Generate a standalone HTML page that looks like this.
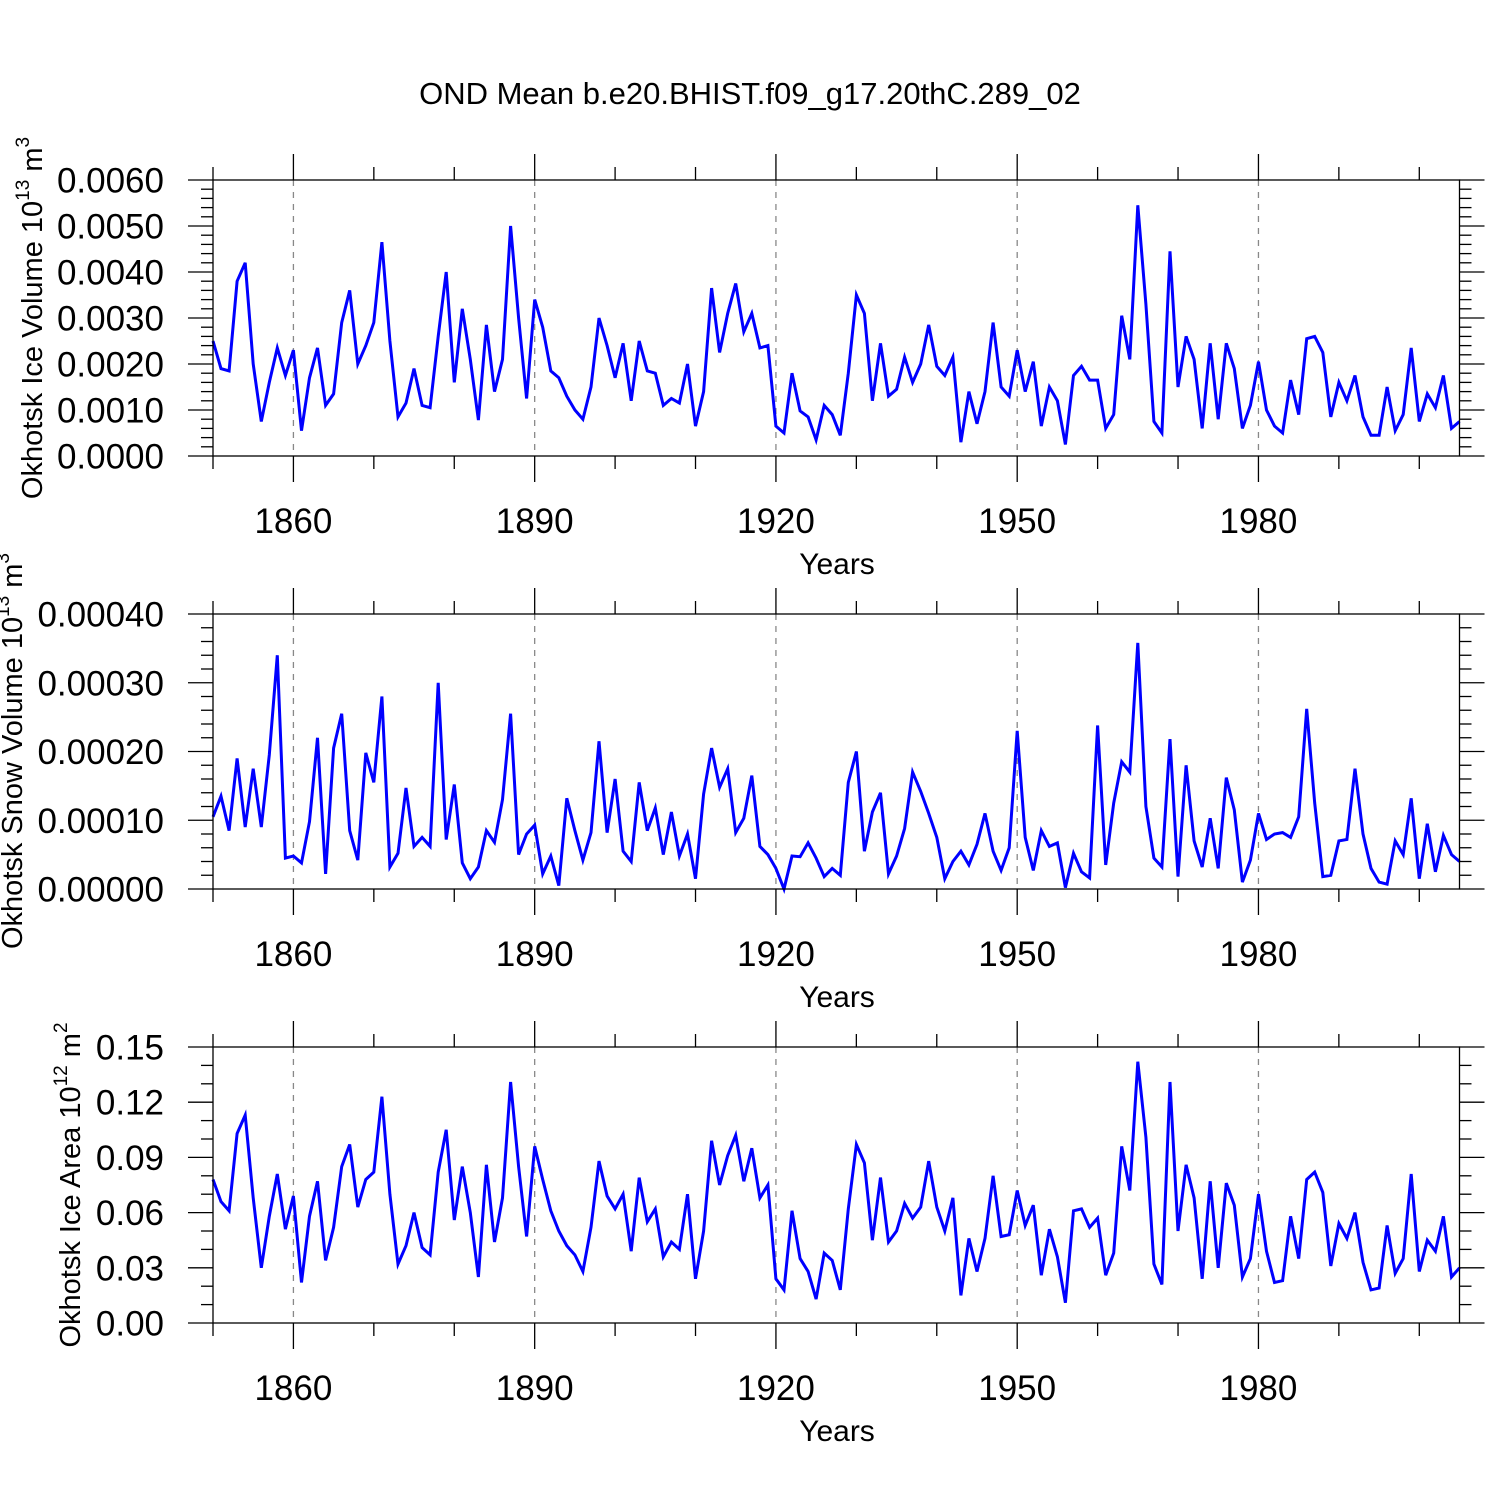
<!DOCTYPE html>
<html><head><meta charset="utf-8"><style>
html,body{margin:0;padding:0;background:#fff}
svg{display:block}
text{font-family:"Liberation Sans",sans-serif;fill:#000}
</style></head><body>
<svg id="chart" width="1500" height="1500" viewBox="0 0 1500 1500" xmlns="http://www.w3.org/2000/svg">
<rect width="1500" height="1500" fill="#fff"/>
<text x="750" y="104" font-size="31" text-anchor="middle">OND Mean b.e20.BHIST.f09_g17.20thC.289_02</text>
</svg>
<script>
const years=[];for(let y=1850;y<=2005;y++)years.push(y);
const xTickYears=[1860,1890,1920,1950,1980];
const iceVolume=[2.5,1.9,1.85,3.8,4.2,2.0,0.75,1.6,2.35,1.75,2.3,0.55,1.7,2.35,1.1,1.35,2.9,3.6,2.0,2.4,2.9,4.65,2.5,0.85,1.15,1.9,1.1,1.05,2.6,4.0,1.6,3.2,2.1,0.78,2.85,1.4,2.1,5.0,3.0,1.25,3.4,2.8,1.85,1.7,1.3,1.0,0.8,1.5,3.0,2.4,1.7,2.45,1.2,2.5,1.85,1.8,1.1,1.25,1.15,2.0,0.65,1.4,3.65,2.25,3.1,3.75,2.7,3.1,2.35,2.4,0.65,0.5,1.8,0.98,0.85,0.35,1.1,0.9,0.45,1.8,3.5,3.1,1.2,2.45,1.3,1.45,2.15,1.6,2.0,2.85,1.95,1.75,2.15,0.3,1.4,0.7,1.4,2.9,1.5,1.3,2.3,1.4,2.05,0.65,1.5,1.2,0.25,1.75,1.95,1.65,1.65,0.6,0.9,3.05,2.1,5.45,3.3,0.75,0.5,4.45,1.5,2.6,2.1,0.6,2.45,0.8,2.45,1.9,0.6,1.1,2.05,1.0,0.65,0.5,1.65,0.9,2.55,2.6,2.25,0.85,1.6,1.2,1.75,0.85,0.45,0.45,1.5,0.55,0.9,2.35,0.75,1.35,1.05,1.75,0.6,0.75].map(v=>v*0.001);
const snowVolume=[1.05,1.35,0.85,1.9,0.9,1.75,0.9,1.95,3.4,0.45,0.48,0.38,0.98,2.2,0.22,2.05,2.55,0.85,0.42,1.98,1.55,2.8,0.32,0.52,1.47,0.62,0.75,0.62,3.0,0.72,1.52,0.38,0.15,0.32,0.85,0.68,1.3,2.55,0.5,0.8,0.93,0.22,0.48,0.05,1.32,0.85,0.42,0.82,2.15,0.82,1.6,0.55,0.4,1.55,0.85,1.18,0.5,1.12,0.48,0.8,0.15,1.38,2.05,1.48,1.75,0.82,1.03,1.65,0.62,0.5,0.3,0.0,0.48,0.47,0.67,0.45,0.18,0.3,0.2,1.55,2.0,0.55,1.12,1.4,0.22,0.48,0.88,1.7,1.42,1.1,0.75,0.15,0.4,0.55,0.35,0.65,1.1,0.55,0.27,0.6,2.3,0.75,0.27,0.85,0.62,0.67,0.02,0.52,0.25,0.16,2.38,0.35,1.25,1.85,1.7,3.58,1.2,0.45,0.32,2.18,0.18,1.8,0.7,0.32,1.03,0.3,1.62,1.15,0.1,0.42,1.1,0.72,0.8,0.82,0.75,1.05,2.62,1.25,0.18,0.2,0.7,0.72,1.75,0.8,0.3,0.1,0.07,0.7,0.5,1.32,0.15,0.95,0.25,0.78,0.5,0.4].map(v=>v*0.0001);
const iceArea=[7.8,6.6,6.1,10.3,11.3,6.8,3.0,5.8,8.1,5.1,6.9,2.2,5.8,7.7,3.4,5.2,8.5,9.7,6.3,7.8,8.2,12.3,7.0,3.2,4.2,6.0,4.1,3.7,8.2,10.5,5.6,8.5,6.0,2.5,8.6,4.4,6.8,13.1,8.5,4.7,9.6,7.8,6.1,5.0,4.2,3.7,2.8,5.2,8.8,6.9,6.2,7.0,3.9,7.9,5.5,6.2,3.6,4.4,4.0,7.0,2.4,5.0,9.9,7.5,9.1,10.2,7.7,9.5,6.8,7.5,2.4,1.8,6.1,3.5,2.8,1.3,3.8,3.4,1.8,6.2,9.7,8.7,4.5,7.9,4.4,5.0,6.5,5.7,6.3,8.8,6.3,5.0,6.8,1.5,4.6,2.8,4.6,8.0,4.7,4.8,7.2,5.3,6.4,2.6,5.1,3.6,1.1,6.1,6.2,5.2,5.7,2.6,3.8,9.6,7.2,14.2,10.1,3.2,2.1,13.1,5.0,8.6,6.8,2.4,7.7,3.0,7.6,6.4,2.5,3.5,7.0,3.9,2.2,2.3,5.8,3.5,7.8,8.2,7.1,3.1,5.4,4.6,6.0,3.3,1.8,1.9,5.3,2.7,3.5,8.1,2.8,4.5,3.9,5.8,2.5,3.0].map(v=>v*0.01);
const yTicks1=["0.0000","0.0010","0.0020","0.0030","0.0040","0.0050","0.0060"];
const yTicks2=["0.00000","0.00010","0.00020","0.00030","0.00040"];
const yTicks3=["0.00","0.03","0.06","0.09","0.12","0.15"];

const NS="http://www.w3.org/2000/svg";
const svg=document.getElementById('chart');
const X0=213,X1=1459.5,YR0=1850,YR1=2005;
function xScale(yr){return X0+(yr-YR0)/(YR1-YR0)*(X1-X0);}
function mk(tag,attrs,parent){const e=document.createElementNS(NS,tag);for(const k in attrs)e.setAttribute(k,attrs[k]);(parent||svg).appendChild(e);return e;}

function panel(p){
  const g=mk('g',{});
  
  
  const yMax=p.max,top=p.top,bot=p.bot;
  const yScale=v=>bot-(v/yMax)*(bot-top);
  xTickYears.forEach(yr=>{const l=mk('line',{x1:xScale(yr),x2:xScale(yr),y1:top,y2:bot,stroke:'#888','stroke-width':1.3,'stroke-dasharray':'6,6'},g);
    });
  const pts=years.map((yr,i)=>xScale(yr).toFixed(1)+','+yScale(p.data[i]).toFixed(1)).join(' ');
  const pl=mk('polyline',{points:pts,fill:'none',stroke:'#0000ff','stroke-width':3,'stroke-linejoin':'miter'},g);
  
  
  const fr=mk('rect',{x:X0,y:top,width:X1-X0,height:bot-top,fill:'none',stroke:'#000','stroke-width':1.3},g);
  
  for(let yr=1850;yr<=2000;yr+=10){
    const major=xTickYears.includes(yr);const len=major?26:13;const x=xScale(yr);
    mk('line',{x1:x,x2:x,y1:top,y2:top-len,stroke:'#000','stroke-width':1.3},g);
    mk('line',{x1:x,x2:x,y1:bot,y2:bot+len,stroke:'#000','stroke-width':1.3},g);
  }
  xTickYears.forEach(yr=>{const t=mk('text',{x:xScale(yr),y:bot+77,'font-size':35,'text-anchor':'middle'},g);t.textContent=yr;
    });
  const xt=mk('text',{x:837,y:bot+118,'font-size':30,'text-anchor':'middle'},g);xt.textContent='Years';
  
  const nMaj=p.ticks.length-1,step=yMax/nMaj,sub=p.minor+1;
  for(let i=0;i<=nMaj*sub;i++){
    const v=i*step/sub,y=yScale(v),major=i%sub===0,len=major?25:12;
    mk('line',{x1:X0,x2:X0-len,y1:y,y2:y,stroke:'#000','stroke-width':1.3},g);
    mk('line',{x1:X1,x2:X1+len,y1:y,y2:y,stroke:'#000','stroke-width':1.3},g);
  }
  p.ticks.forEach((lab,i)=>{const t=mk('text',{x:164,y:yScale(i*step)+12.5,'font-size':35,'text-anchor':'end'},g);t.textContent=lab;
    });
  const yt=mk('text',{transform:'translate('+p.tx+','+p.ty+') rotate(-90)','font-size':29,'text-anchor':'middle'},g);
  
  const s1=mk('tspan',{},yt);s1.textContent=p.title+' 10';
  const s2=mk('tspan',{'font-size':19,dy:-13},yt);s2.textContent=p.exp;
  const s3=mk('tspan',{dy:13},yt);s3.textContent=' m';
  const s4=mk('tspan',{'font-size':19,dy:-13},yt);s4.textContent=p.unitExp;
}
panel({name:'ice-volume-panel',data:iceVolume,max:0.006,top:180,bot:456,ticks:yTicks1,minor:4,title:'Okhotsk Ice Volume',exp:'13',unitExp:'3',tx:42,ty:318});
panel({name:'snow-volume-panel',data:snowVolume,max:0.0004,top:614,bot:889,ticks:yTicks2,minor:4,title:'Okhotsk Snow Volume',exp:'13',unitExp:'3',tx:22,ty:751});
panel({name:'ice-area-panel',data:iceArea,max:0.15,top:1047,bot:1323,ticks:yTicks3,minor:2,title:'Okhotsk Ice Area',exp:'12',unitExp:'2',tx:80,ty:1185});
</script>
</body></html>
